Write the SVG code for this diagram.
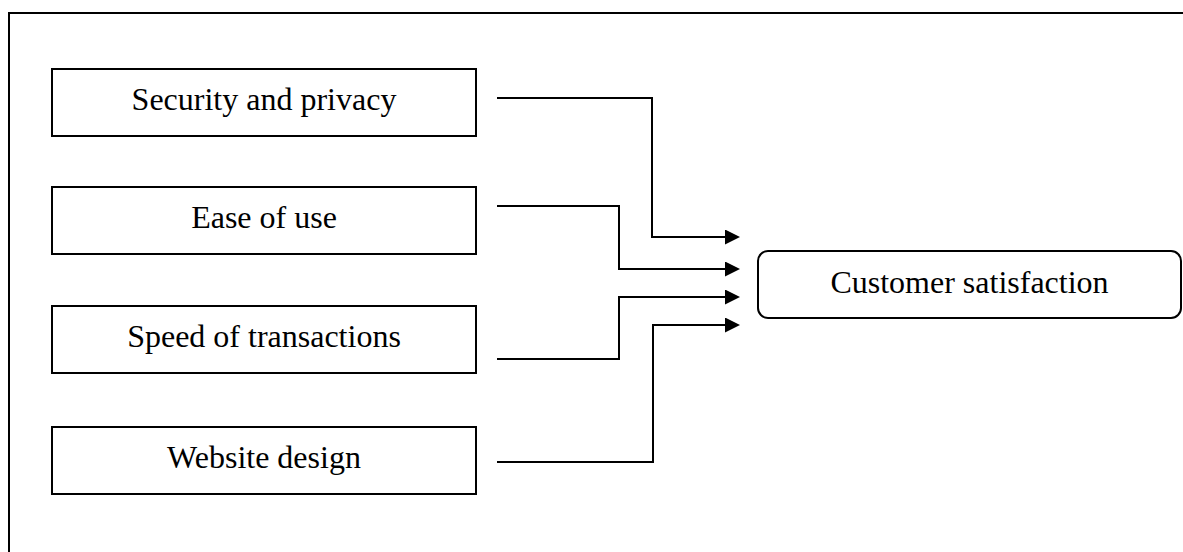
<svg xmlns="http://www.w3.org/2000/svg" width="1183" height="552" viewBox="0 0 1183 552">
  <style>
    .box { fill: #ffffff; stroke: #000000; stroke-width: 2; }
    .lbl { font-family: "Liberation Serif", "Times New Roman", serif; font-size: 32px; fill: #000000; text-anchor: middle; }
    .conn { fill: none; stroke: #000000; stroke-width: 2; }
  </style>
  <defs>
    <marker id="arrow" markerUnits="userSpaceOnUse" markerWidth="15" markerHeight="15" refX="0" refY="7.5" orient="auto">
      <path d="M0,0 L15,7.5 L0,15 Z" fill="#000000"/>
    </marker>
  </defs>
  <rect x="0" y="0" width="1183" height="552" fill="#ffffff"/>
  <path d="M9,552 V13 H1183" fill="none" stroke="#000000" stroke-width="2"/>

  <g id="node-security">
    <rect class="box" x="52" y="69" width="424" height="67"/>
    <text class="lbl" x="264" y="110">Security and privacy</text>
  </g>
  <g id="node-ease">
    <rect class="box" x="52" y="187" width="424" height="67"/>
    <text class="lbl" x="264" y="228">Ease of use</text>
  </g>
  <g id="node-speed">
    <rect class="box" x="52" y="306" width="424" height="67"/>
    <text class="lbl" x="264" y="347">Speed of transactions</text>
  </g>
  <g id="node-website">
    <rect class="box" x="52" y="427" width="424" height="67"/>
    <text class="lbl" x="264" y="468">Website design</text>
  </g>
  <g id="node-satisfaction">
    <rect class="box" x="758" y="251" width="423" height="67" rx="10" ry="10"/>
    <text class="lbl" x="969.5" y="293">Customer satisfaction</text>
  </g>

  <g id="connectors">
    <path class="conn" d="M497,98 H652 V237 H725" marker-end="url(#arrow)"/>
    <path class="conn" d="M497,206 H619 V269 H725" marker-end="url(#arrow)"/>
    <path class="conn" d="M497,359 H619 V297 H725" marker-end="url(#arrow)"/>
    <path class="conn" d="M497,462 H653 V325 H725" marker-end="url(#arrow)"/>
  </g>
</svg>
